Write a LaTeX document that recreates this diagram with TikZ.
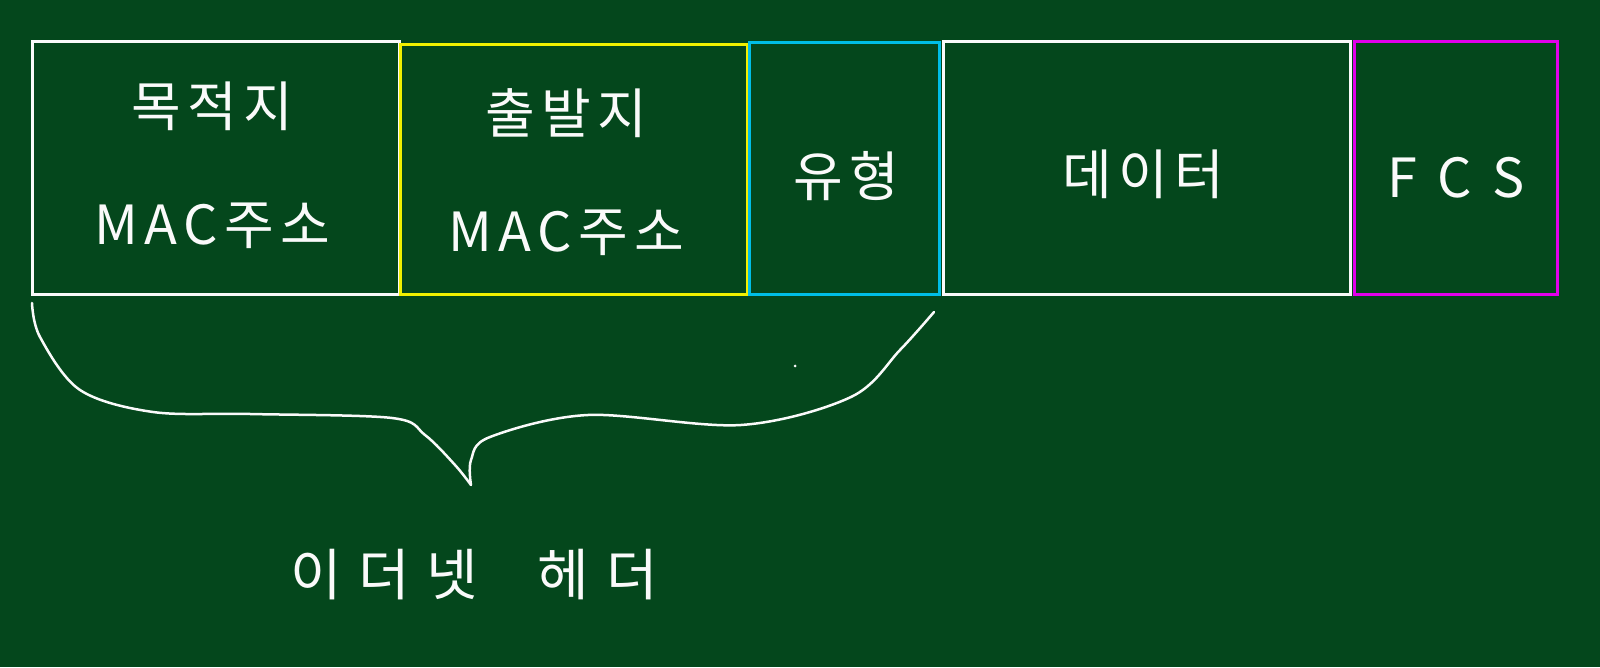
\documentclass[tikz,border=0pt]{standalone}
\usepackage{fontspec}
\newfontfamily\kr{Noto Sans CJK KR}
\definecolor{board}{RGB}{4,71,28}
\definecolor{chalk}{RGB}{250,250,250}
\definecolor{cyel}{RGB}{240,240,0}
\definecolor{ccya}{RGB}{0,190,230}
\definecolor{cmag}{RGB}{225,0,235}
\begin{document}
\begin{tikzpicture}[x=1pt,y=1pt,
  field/.style={draw, line width=3pt, anchor=south west, inner sep=0pt},
  lab/.style={text=chalk, align=center, font=\kr\fontsize{54}{118}\selectfont\addfontfeature{LetterSpace=12}},
  wide/.style={font=\kr\fontsize{54}{118}\selectfont\addfontfeature{LetterSpace=40}},
  hdr/.style={font=\kr\fontsize{56}{118}\selectfont\addfontfeature{LetterSpace=30}},
  brace/.style={draw=chalk, line width=2.5pt, line cap=round, line join=round}]
\fill[board] (0,0) rectangle (1600,667);
\useasboundingbox (0,0) rectangle (1600,667);
% fields
\node[field, draw=chalk, minimum width=367pt, minimum height=253pt] (dst) at (31,371) {};
\node[field, draw=cyel, minimum width=347pt, minimum height=250pt] (src) at (399,371) {};
\node[field, draw=ccya, minimum width=190pt, minimum height=252pt] (typ) at (748,371) {};
\node[field, draw=chalk, minimum width=407pt, minimum height=253pt] (dat) at (942,371) {};
\node[field, draw=cmag, minimum width=203pt, minimum height=253pt] (fcs) at (1353,371) {};
% labels
\node[lab] (tdst) at (212,502) {목적지\\MAC주소};
\node[lab] (tsrc) at (566,495) {출발지\\MAC주소};
\node[lab] (ttyp) at (846,491) {유형};
\node[lab] (tdat) at (1143,493) {데이터};
\node[lab, wide] (tfcs) at (1456,489) {FCS};
% brace
\coordinate (bl) at (32,364);
\coordinate (br) at (934,355);
\coordinate (tip) at (471,182);
\draw[brace] plot[smooth, tension=0.55] coordinates {(bl) (40,330) (80,277) (153,255) (250,253) (392,249) (425,232) (455,202) (tip)};
\draw[brace] plot[smooth, tension=0.55] coordinates {(tip) (471,207) (490,230) (588,252) (741,242) (851,270) (900,317) (br)};
\fill[chalk] (795,301) circle (1.5pt);
\node[lab, hdr] (thdr) at (474,92) {이더넷\hspace{30pt} 헤더};
\end{tikzpicture}
\end{document}
